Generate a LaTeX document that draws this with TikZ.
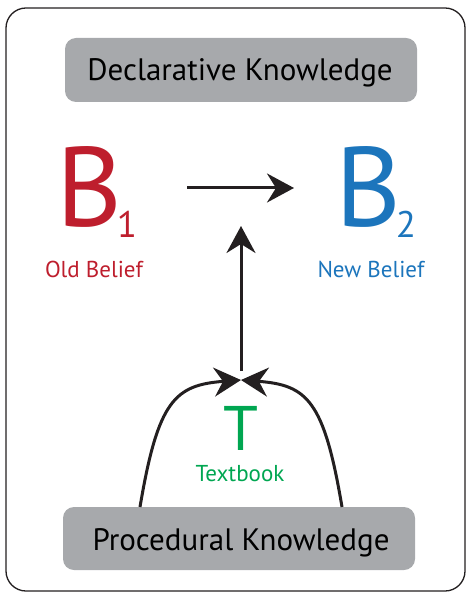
\documentclass[tikz,border=0pt]{standalone}
\usepackage{fontspec}
\setmainfont{PT Sans}
\usetikzlibrary{arrows.meta}
\definecolor{boxgray}{HTML}{A7A9AC}
\definecolor{bred}{HTML}{BE1E2D}
\definecolor{bblue}{HTML}{1C75BC}
\definecolor{tgreen}{HTML}{00A651}
\definecolor{ink}{HTML}{231F20}
\newcommand{\bsub}[1]{\kern-6pt\raisebox{-11pt}{\fontsize{37}{37}\selectfont #1}}
\tikzset{
  kbox/.style={fill=boxgray, rounded corners=11pt, draw=none},
  ktext/.style={anchor=base, inner sep=0pt, text=black, font=\fontsize{31}{31}\selectfont},
  bigletter/.style={anchor=base, inner sep=0pt, font=\fontsize{113}{113}\selectfont},
  sublabel/.style={anchor=base, inner sep=0pt, font=\fontsize{23}{23}\selectfont},
  conn/.style={draw=ink, line width=3pt, -{Stealth[length=27pt, width=29pt, inset=9pt]}},
  frame/.style={draw=ink, line width=1.3pt, rounded corners=20pt}
}
\begin{document}
\begin{tikzpicture}[x=1pt, y=-1pt]
\useasboundingbox (0,0) rectangle (468,593);
\draw[frame] (6,8) rectangle (465,591);
% boxes
\fill[kbox] (65,38) rectangle (417,102);
\node[ktext] (DK) at (240,81) {Declarative Knowledge};
\fill[kbox] (63,507) rectangle (415,570);
\node[ktext] (PK) at (241,550) {Procedural Knowledge};
% beliefs
\node[bigletter, text=bred] (B1) at (97,227) {B\bsub{1}};
\node[sublabel, text=bred] (OB) at (94,277) {Old Belief};
\node[bigletter, text=bblue] (B2) at (376,227) {B\bsub{2}};
\node[sublabel, text=bblue] (NB) at (371,277) {New Belief};
% textbook
\node[anchor=base, inner sep=0pt, text=tgreen, font=\fontsize{63}{63}\selectfont] (T) at (241,450) {T};
\node[sublabel, text=tgreen] (TB) at (240,481) {Textbook};
% connector ends
\coordinate (hs) at (187,188);
\coordinate (he) at (294,188);
\coordinate (meet) at (241,380);
\coordinate (vs) at (241,371);
\coordinate (ve) at (241,226);
\coordinate (ls) at (140,507);
\coordinate (rs) at (342,507);
% connectors
\draw[conn] (hs) -- (he);
\draw[conn] (vs) -- (ve);
\draw[conn] (ls) .. controls (158,400) and (175,385) .. (meet);
\draw[conn] (rs) .. controls (324,400) and (307,385) .. (meet);
\end{tikzpicture}
\end{document}
